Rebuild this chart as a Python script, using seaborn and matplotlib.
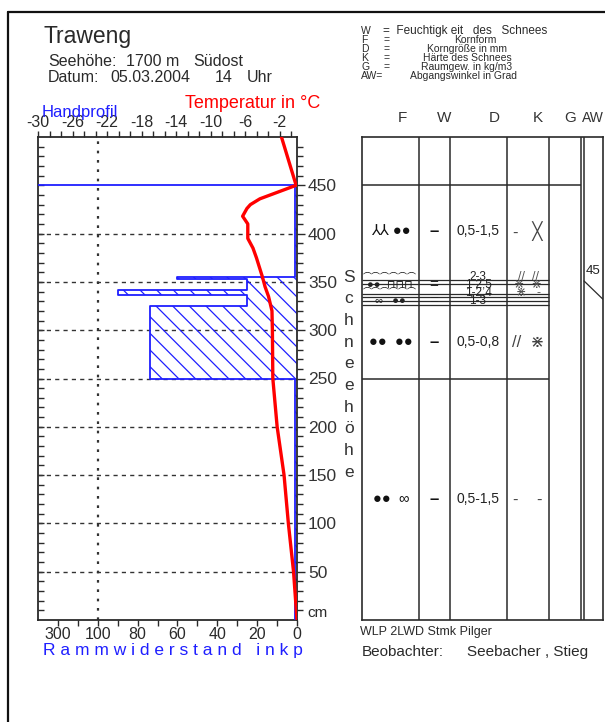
import numpy as np
import pandas as pd
import matplotlib
matplotlib.use("Agg")
import matplotlib.pyplot as plt
from matplotlib.lines import Line2D
import seaborn as sns

sns.set_theme(style="white")
plt.rcParams["font.family"] = ["Liberation Sans", "DejaVu Sans", "Noto Sans CJK JP"]
plt.rcParams["axes.unicode_minus"] = False
plt.rcParams["hatch.linewidth"] = 0.9

# ---------------------------------------------------------------- data
# snow temperature (height in cm, temperature in degC)
temp_height = [0, 50, 100, 150, 200, 250, 300, 320, 335, 345, 355, 375,
               385, 395, 410, 418, 426, 430, 436, 441, 450, 500]
temp_value = [0.0, -0.4, -1.0, -1.5, -2.3, -2.8, -2.85, -2.9, -3.3, -3.7,
              -4.0, -4.7, -5.1, -5.7, -5.7, -6.3, -5.8, -5.4, -4.3, -2.8,
              -0.1, -1.8]

# ram / hand hardness profile: layer boundaries (cm) and resistance (kp)
ram_bounds = [0, 250, 325, 336, 342, 353, 355, 450]
ram_kp = [1, 74, 25, 90, 25, 60, 1]
snow_surface = 450

temp_ticks = [-30, -26, -22, -18, -14, -10, -6, -2]
ram_ticks = [0, 20, 40, 60, 80, 100, 200, 300]
ram_tick_labels = ["0", "20", "40", "60", "80", "100", "", "300"]
height_ticks = [50, 100, 150, 200, 250, 300, 350, 400, 450]

# layer description table
main_layer_top = [450, 325, 250]
main_layer_bottom = [355, 250, 0]
main_form = ["⅄⅄ ●●", "●●  ●●", "●●  ∞"]
main_wet = ["–", "–", "–"]
main_size = ["0,5-1,5", "0,5-0,8", "0,5-1,5"]
main_hard = ["-   ╳", "//  ⋇", "-    -"]

thin_height = [355, 347, 339, 330]
thin_form = ["⌒⌒⌒⌒⌒⌒", "●●  ⊓⊓⊓", "⌒⌒⌒⌒⌒⌒", "∞   ●●"]
thin_form_size = [6.5, 8, 6.5, 8]
thin_wet = ["", "=", "", "="]
thin_size = ["2-3", "1-2,5", "1-2,4", "1-3"]
thin_hard = ["//  //", "⋇  ⋇", "⋇   -", ""]
thin_lines = [352, 348, 337, 334, 330, 326]

release_angle = 45
release_height = 351

legend_keys = ["W", "F", "D", "K", "G", "AW="]
legend_text = ["=  Feuchtigk eit   des   Schnees", "Kornform", "Korngröße in mm",
               "Härte des Schnees", "Raumgew. in kg/m3", "Abgangswinkel in Grad"]

# ---------------------------------------------------------------- figure
W, H = 605, 722
fig = plt.figure(figsize=(W / 100, H / 100), dpi=100)
fig.patch.set_facecolor("white")

BLUE = "#1f1fff"
INK = "#2a2a2a"


def px_axes(x0, y0, x1, y1):
    return fig.add_axes([x0 / W, 1 - y1 / H, (x1 - x0) / W, (y1 - y0) / H])


def ftext(x, y, s, **kw):
    kw.setdefault("va", "center")
    kw.setdefault("ha", "left")
    kw.setdefault("color", INK)
    fig.text(x / W, 1 - y / H, s, **kw)


# outer frame
fig.add_artist(Line2D([8 / W, 8 / W], [0, 1 - 12 / H], color="#111", lw=1.6))
fig.add_artist(Line2D([8 / W, 1], [1 - 12 / H, 1 - 12 / H], color="#111", lw=1.6))

# ---------------------------------------------------------------- profile axes
ax = px_axes(38, 137, 297, 620)


def ram_fwd(v):
    v = np.asarray(v, dtype=float)
    return np.where(v <= 100, v, 100 + (v - 100) / 10)


def ram_inv(u):
    u = np.asarray(u, dtype=float)
    return np.where(u <= 100, u, 100 + (u - 100) * 10)


ax.set_xscale("function", functions=(ram_fwd, ram_inv))
ax.set_xlim(400, 0)
ax.set_ylim(0, 500)
ax.set_facecolor("none")

# grid
ax.hlines(list(range(50, 401, 50)), 400, 0, colors="#333",
          linestyles=(0, (3, 3)), lw=1.0, zorder=1)
ax.axvline(100, color="#333", ls=(0, (1.2, 3)), lw=1.6, zorder=1)

# ram profile as steps with hatching
ys = np.repeat(ram_bounds, 2)[1:-1]
xs = np.repeat(ram_kp, 2)
ax.fill_betweenx(ys, 0, xs, facecolor="none", edgecolor=BLUE,
                 hatch="\\\\", linewidth=0, zorder=2)
ax.plot(xs, ys, color=BLUE, lw=1.3, zorder=3)
ax.plot([400, 0], [snow_surface, snow_surface], color=BLUE, lw=1.3, zorder=3)

for s in ax.spines.values():
    s.set_color(INK)
    s.set_linewidth(1.3)

ax.set_xticks(ram_ticks)
ax.set_xticklabels(ram_tick_labels)
ax.set_xticks([10, 30, 50, 70, 90], minor=True)
ax.tick_params(axis="x", which="both", bottom=True, top=False, direction="out",
               length=4, width=1, color=INK, labelsize=11.5, pad=1,
               labelcolor=INK)
ax.set_yticks(height_ticks)
ax.set_yticks(list(range(10, 500, 10)), minor=True)
ax.tick_params(axis="y", which="both", left=True, right=False, direction="in",
               length=4, width=1, color=INK, labelleft=False)
ax.set_xlabel("")
ax.set_ylabel("")

# height labels on the right
axR = ax.twinx()
axR.set_ylim(0, 500)
axR.set_yticks(height_ticks)
axR.set_yticks(list(range(10, 500, 10)), minor=True)
axR.tick_params(axis="y", which="major", right=True, direction="out",
                length=6, width=1, color=INK, labelsize=12.5, pad=2,
                labelcolor="#333")
axR.tick_params(axis="y", which="minor", right=True, direction="out",
                length=4, width=1, color=INK)
for s in axR.spines.values():
    s.set_visible(False)

# temperature on the top axis
axT = ax.twiny()
axT.set_xlim(-30, 0)
df_temp = pd.DataFrame({"Temperatur": temp_value, "Hoehe": temp_height})
sns.lineplot(data=df_temp, x="Temperatur", y="Hoehe", sort=False, orient="y",
             estimator=None, color="red", lw=2.4, ax=axT, zorder=5)
axT.set_xlabel("")
axT.set_ylabel("")
axT.set_xticks(temp_ticks)
axT.set_xticks(np.arange(-30, 0.01, 4 / 3), minor=True)
axT.tick_params(axis="x", which="both", top=True, bottom=False,
                direction="out", length=4, width=1, color=INK,
                labelsize=11.5, pad=1, labelcolor=INK)
for s in axT.spines.values():
    s.set_visible(False)
axT.tick_params(axis="y", left=False, right=False, labelleft=False,
                labelright=False)

# ---------------------------------------------------------------- texts
ftext(44, 36, "Traweng", fontsize=16.5)
ftext(48, 61, "Seehöhe:", fontsize=11.5)
ftext(126, 61, "1700 m", fontsize=11.5)
ftext(193, 61, "Südost", fontsize=11.5)
ftext(48, 78, "Datum:", fontsize=11.5)
ftext(110, 78, "05.03.2004", fontsize=11.5)
ftext(215, 78, "14", fontsize=11.5)
ftext(247, 78, "Uhr", fontsize=11.5)
ftext(185, 103, "Temperatur in °C", fontsize=13, color="red")
ftext(42, 112, "Handprofil", fontsize=12, color=BLUE)
ftext(43, 651, "R a m m w i d e r s t a n d   i n k p", fontsize=12.5,
      color=BLUE)
ftext(307, 613, "cm", fontsize=11)
for i, ch in enumerate("Schneehöhe"):
    ftext(349, 277 + i * 21.7, ch, fontsize=12.5, ha="center", color="#333")

# legend of the table columns
for i, (k, t) in enumerate(zip(legend_keys, legend_text)):
    yy = 31 + i * 9
    ftext(361, yy, k, fontsize=7.5)
    if i == 0:
        ftext(383, yy, t, fontsize=8.5)
    elif i == 5:
        ftext(410, yy, t, fontsize=7.5)
    else:
        ftext(383, yy, "=", fontsize=7.5)
        ftext(467 if i > 1 else 475, yy, t, fontsize=7.5, ha="center")

for lab, xx in zip(["F", "W", "D", "K", "G"], [402, 444, 494, 538, 570]):
    ftext(xx, 118, lab, fontsize=11, ha="center", color="#333")
ftext(582, 118, "AW", fontsize=10, color="#333")

ftext(360, 632, "WLP 2LWD Stmk Pilger", fontsize=9)
ftext(362, 652, "Beobachter:", fontsize=11)
ftext(467, 652, "Seebacher , Stieg", fontsize=11)

# ---------------------------------------------------------------- table
axTab = px_axes(362, 137, 603, 620)
axTab.set_xlim(362, 603)
axTab.set_ylim(0, 500)
axTab.set_xticks([])
axTab.set_yticks([])
axTab.set_facecolor("none")
for s in axTab.spines.values():
    s.set_color(INK)
    s.set_linewidth(1.2)

for xv in [419, 450, 507, 549, 581, 584]:
    axTab.axvline(xv, color=INK, lw=1.1)
axTab.hlines(main_layer_top[0], 362, 581, color=INK, lw=1.1)
axTab.hlines(main_layer_bottom[1], 362, 549, color=INK, lw=1.1)
axTab.hlines(thin_lines, 362, 549, color=INK, lw=0.9)

for top, bot, f, w, d, k in zip(main_layer_top, main_layer_bottom, main_form,
                                main_wet, main_size, main_hard):
    yc = (top + bot) / 2
    axTab.text(391, yc, f, fontsize=10.5, ha="center", va="center", color="#111")
    axTab.text(434, yc, w, fontsize=12, fontweight="bold", ha="center",
               va="center", color="#111")
    axTab.text(478, yc, d, fontsize=10, ha="center", va="center", color="#222")
    axTab.text(528, yc, k, fontsize=12, ha="center", va="center", color="#444")

for yc, f, fs, w, d, k in zip(thin_height, thin_form, thin_form_size,
                              thin_wet, thin_size, thin_hard):
    axTab.text(390, yc, f, fontsize=fs, ha="center", va="center", color="#222")
    axTab.text(434, yc, w, fontsize=11, ha="center", va="center", color="#222")
    axTab.text(478, yc, d, fontsize=8.5, ha="center", va="center", color="#222")
    axTab.text(528, yc, k, fontsize=9, ha="center", va="center", color="#555")

axTab.text(586, release_height + 10, str(release_angle), fontsize=9.5,
           ha="left", va="center", color="#222")
axTab.plot([584, 603], [release_height, release_height - 19], color=INK,
           lw=0.9)

fig.savefig("out.png", dpi=100)
